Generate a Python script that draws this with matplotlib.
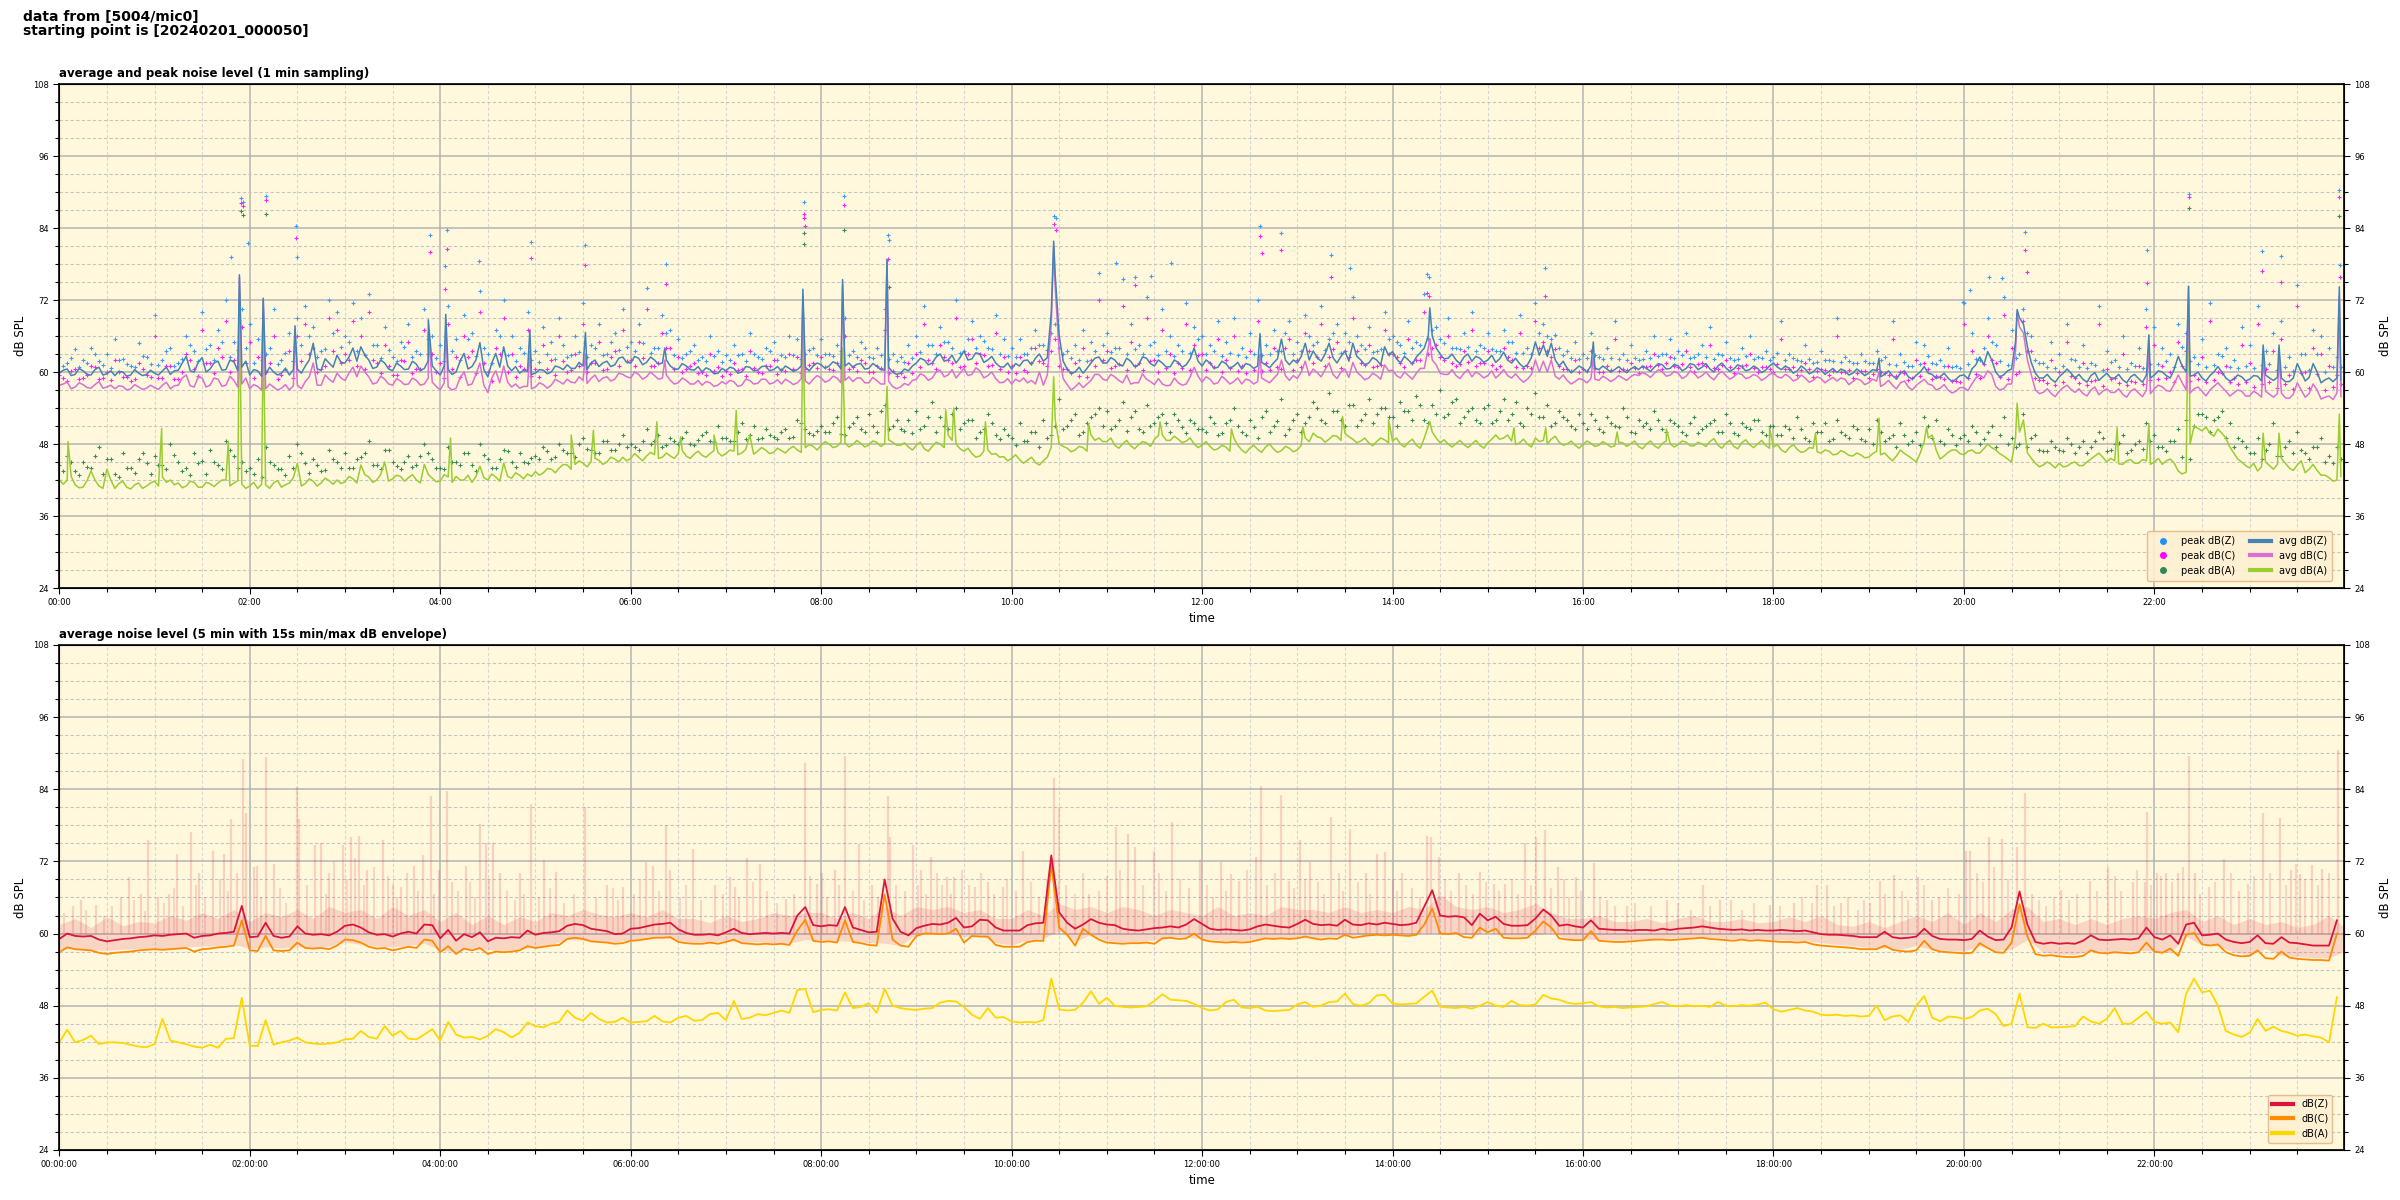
import numpy as np
import matplotlib
matplotlib.use("Agg")
import matplotlib.pyplot as plt
from matplotlib.ticker import MultipleLocator, FuncFormatter
from matplotlib.lines import Line2D

# ---------------- top chart: 1-min averages (read every 2.5 min) ----------------
# values at hh:m0 / hh:m5
avg_Z = [
    59.8, 60.5, 59.6, 60.2, 59.5, 60.8, 59.7, 59.4, 60.0, 59.5, 59.8, 59.6,
    59.8, 60.2, 59.6, 60.3, 62.6, 60.0, 62.4, 60.5, 61.8, 60.4, 61.7, 60.8,
    59.5, 60.2, 59.6, 60.0, 59.8, 59.5, 60.5, 61.0, 64.8, 60.3, 61.5, 62.8,
    61.5, 64.0, 64.2, 62.0, 60.8, 61.5, 60.2, 61.0, 60.5, 61.3, 60.6, 61.0,
    59.5, 60.4, 60.0, 63.1, 60.9, 64.9, 59.2, 63.1, 64.2, 60.2, 59.8, 60.1,
    59.8, 60.3, 60.0, 60.8, 61.2, 60.6, 61.0, 61.5, 60.9, 61.8, 61.2, 62.5,
    61.5, 62.3, 61.6, 62.0, 61.5, 61.0, 60.5, 61.0, 60.3, 60.0, 60.4, 59.8,
    60.2, 60.6, 60.0, 60.8, 60.3, 61.0, 60.4, 60.2, 60.6, 60.4, 60.8, 61.0,
    61.2, 61.0, 61.4, 61.0, 60.8, 61.4, 60.6, 61.0, 60.3, 60.0, 59.8, 60.2,
    61.5, 62.0, 61.5, 63.0, 62.0, 61.5, 63.5, 62.2, 63.0, 62.0, 61.5, 60.8,
    60.5, 61.0, 62.0, 62.3, 61.8, 70.0, 66.0, 60.5, 60.0, 59.8, 61.5, 62.5,
    61.5, 62.0, 61.0, 61.8, 61.2, 62.3, 61.0, 61.5, 60.9, 61.6, 61.2, 64.0,
    61.0, 61.5, 60.8, 61.4, 61.0, 60.5, 61.2, 61.0, 61.2, 61.5, 65.5, 61.2,
    61.5, 64.8, 63.5, 61.8, 64.8, 61.5, 63.5, 64.8, 62.0, 61.5, 62.0, 64.2,
    63.4, 61.5, 62.0, 62.5, 64.0, 66.0, 63.0, 62.3, 62.0, 62.5, 61.8, 62.3,
    62.0, 61.6, 63.3, 61.5, 61.4, 61.2, 65.0, 64.5, 64.8, 61.0, 60.6, 60.4,
    60.6, 61.0, 60.4, 60.5, 60.4, 60.3, 60.5, 60.4, 60.6, 60.8, 61.2, 60.6,
    61.0, 60.6, 61.2, 60.8, 60.5, 61.0, 60.7, 60.5, 60.9, 60.4, 60.6, 60.3,
    61.5, 60.4, 60.6, 60.2, 60.5, 60.0, 60.3, 60.1, 59.9, 60.2, 59.8, 60.0,
    59.8, 60.2, 59.6, 59.4, 59.8, 59.2, 59.5, 60.9, 59.6, 59.2, 59.0, 58.8,
    59.5, 60.5, 62.5, 63.4, 60.0, 59.5, 60.5, 69.0, 64.2, 59.8, 59.0, 58.8,
    59.2, 60.5, 59.0, 58.8, 59.4, 58.6, 59.8, 59.0, 58.7, 59.2, 58.9, 59.5,
    59.5, 60.0, 59.0, 62.6, 60.0, 59.5, 59.0, 59.4, 60.9, 59.0, 58.8, 59.2,
    58.8, 59.3, 59.5, 58.6, 59.0, 58.4, 61.4, 58.5, 61.4, 58.2, 59.0, 59.0,
]
# values at hh:m2.5 / hh:m7.5
avg_Z_mid = [
    60.3, 59.4, 60.6, 59.6, 60.4, 59.5, 60.2, 60.1, 59.3, 60.4, 59.4, 60.3,
    59.5, 60.8, 60.2, 61.5, 60.2, 61.6, 60.0, 61.5, 60.3, 62.0, 60.2, 61.8,
    60.4, 59.3, 60.8, 59.5, 60.6, 60.4, 59.8, 62.0, 60.5, 62.2, 60.8, 61.6,
    62.5, 61.8, 62.8, 60.6, 62.0, 60.5, 61.5, 60.4, 61.8, 60.2, 61.9, 60.2,
    61.0, 59.6, 61.8, 60.5, 62.0, 60.4, 61.5, 60.8, 61.0, 60.9, 60.3, 59.6,
    60.4, 59.7, 61.0, 60.4, 60.6, 61.6, 60.4, 62.0, 61.5, 60.9, 62.3, 61.6,
    62.6, 61.2, 62.5, 61.3, 62.0, 60.5, 61.4, 60.4, 60.9, 60.7, 59.7, 60.6,
    60.8, 59.8, 60.9, 60.2, 60.9, 60.2, 60.9, 61.0, 60.1, 61.0, 60.2, 61.5,
    60.6, 61.7, 60.5, 61.5, 61.3, 60.5, 61.4, 60.4, 60.8, 59.6, 60.5, 61.0,
    62.3, 61.2, 62.5, 61.8, 62.8, 62.4, 62.0, 63.2, 61.6, 62.6, 60.9, 61.5,
    61.4, 61.9, 61.2, 63.0, 62.4, 76.0, 61.8, 59.8, 60.8, 60.6, 62.3, 61.5,
    62.4, 61.2, 62.3, 60.9, 62.5, 61.4, 62.0, 60.8, 62.0, 60.8, 62.2, 61.8,
    62.0, 60.6, 61.8, 60.6, 61.6, 61.4, 60.6, 61.6, 60.7, 62.2, 62.0, 62.0,
    62.6, 62.0, 62.4, 63.0, 62.4, 62.6, 61.8, 62.6, 61.2, 62.4, 61.2, 62.8,
    62.2, 62.6, 61.3, 63.2, 66.0, 64.0, 62.2, 63.0, 61.4, 63.0, 62.6, 61.6,
    62.8, 62.2, 62.0, 62.3, 60.8, 62.4, 62.8, 62.6, 62.0, 61.8, 59.9, 61.0,
    60.0, 60.6, 61.0, 60.0, 60.9, 59.9, 60.9, 61.0, 60.1, 61.4, 60.5, 61.3,
    60.2, 61.4, 60.4, 61.4, 60.0, 61.5, 60.1, 61.2, 60.2, 61.0, 59.9, 61.0,
    60.8, 61.0, 59.8, 61.0, 59.7, 60.7, 59.6, 60.6, 60.5, 59.5, 60.5, 59.4,
    60.4, 59.2, 60.2, 58.8, 60.2, 58.8, 60.0, 59.8, 58.9, 59.8, 58.4, 59.4,
    58.9, 61.2, 61.2, 62.0, 59.2, 60.2, 65.0, 68.0, 61.5, 59.0, 59.6, 58.3,
    59.8, 59.8, 59.6, 58.3, 59.9, 59.2, 59.0, 59.6, 58.2, 59.6, 58.3, 59.0,
    60.2, 59.4, 60.5, 61.0, 59.3, 60.0, 58.5, 60.0, 60.0, 58.5, 59.5, 58.5,
    59.4, 58.5, 59.0, 59.1, 58.4, 59.0, 60.0, 59.1, 60.0, 58.7, 58.4, 58.6,
]
avg_C = [
    57.8, 58.3, 57.5, 57.9, 57.3, 58.4, 57.5, 57.2, 57.6, 57.2, 57.5, 57.3,
    57.4, 57.8, 57.2, 57.8, 59.5, 57.5, 59.0, 57.8, 58.8, 57.8, 58.6, 58.0,
    57.2, 57.6, 57.2, 57.5, 57.3, 57.0, 57.8, 58.4, 61.5, 57.8, 58.8, 59.8,
    58.6, 60.8, 61.0, 59.2, 58.2, 58.8, 57.8, 58.5, 58.0, 58.6, 58.0, 58.3,
    57.0, 57.5, 57.3, 60.0, 58.0, 61.5, 56.6, 60.2, 61.0, 57.5, 57.3, 57.6,
    57.5, 57.9, 57.8, 58.4, 58.8, 58.2, 58.6, 58.9, 58.4, 59.2, 58.8, 59.6,
    59.0, 59.6, 59.2, 59.4, 59.0, 58.6, 58.2, 58.6, 58.0, 57.8, 58.2, 57.8,
    58.0, 58.4, 57.8, 58.6, 58.1, 58.8, 58.2, 58.0, 58.4, 58.2, 58.5, 58.8,
    59.0, 58.6, 59.0, 58.6, 58.4, 59.0, 58.2, 58.6, 58.0, 57.6, 57.5, 57.8,
    58.8, 59.4, 59.0, 60.3, 59.5, 59.0, 60.6, 59.6, 60.2, 59.4, 58.9, 58.3,
    58.0, 58.4, 58.2, 58.0, 57.8, 68.0, 63.0, 57.9, 57.5, 57.4, 58.6, 59.6,
    58.6, 59.2, 58.2, 58.0, 58.2, 58.8, 57.9, 58.0, 57.8, 58.2, 58.0, 60.8,
    58.3, 58.8, 58.2, 58.7, 58.4, 58.0, 58.6, 58.4, 58.6, 58.9, 62.0, 58.6,
    58.9, 61.8, 60.5, 59.2, 61.5, 58.9, 60.5, 61.6, 59.4, 59.0, 59.4, 61.2,
    60.3, 59.0, 59.4, 59.8, 60.6, 62.0, 59.8, 59.6, 59.4, 59.8, 59.2, 59.6,
    59.4, 59.0, 60.4, 59.0, 58.9, 58.8, 62.0, 61.8, 62.0, 58.8, 58.6, 58.4,
    58.7, 58.9, 58.6, 58.9, 58.8, 59.0, 59.2, 59.4, 59.6, 59.8, 60.0, 59.5,
    59.8, 59.3, 59.8, 59.4, 59.2, 59.6, 59.4, 59.2, 59.6, 59.1, 59.3, 59.0,
    59.8, 59.0, 59.2, 58.8, 59.0, 58.6, 58.9, 58.7, 58.5, 58.8, 58.4, 58.6,
    58.2, 58.5, 58.0, 57.8, 58.2, 57.5, 57.8, 58.8, 57.8, 57.3, 57.0, 56.8,
    57.4, 58.0, 59.5, 60.2, 57.6, 57.2, 58.0, 67.5, 62.0, 57.0, 56.6, 56.4,
    56.8, 57.8, 56.6, 56.4, 57.0, 56.2, 57.2, 56.6, 56.3, 56.8, 56.5, 57.0,
    57.2, 57.5, 56.8, 59.5, 57.0, 57.2, 56.8, 57.0, 58.2, 56.8, 56.5, 56.8,
    56.0, 56.4, 56.8, 55.8, 56.5, 55.6, 58.2, 55.8, 58.0, 55.5, 56.0, 56.5,
]
avg_C_mid = [
    58.0, 57.2, 58.2, 57.4, 57.9, 57.3, 57.8, 57.7, 57.0, 57.9, 57.1, 57.8,
    57.1, 58.3, 57.7, 59.0, 57.7, 59.2, 57.5, 59.0, 57.6, 59.3, 57.5, 59.0,
    57.9, 57.0, 58.0, 57.0, 57.9, 57.7, 57.2, 59.2, 57.8, 59.5, 58.3, 59.0,
    59.8, 59.2, 60.0, 58.0, 59.3, 58.0, 58.9, 57.9, 59.0, 57.8, 59.0, 57.6,
    58.2, 57.0, 59.0, 57.8, 59.6, 57.8, 59.0, 58.2, 58.3, 58.0, 57.6, 57.2,
    58.2, 57.3, 58.8, 58.0, 58.3, 59.2, 58.1, 59.5, 59.0, 58.5, 59.8, 59.2,
    60.0, 58.8, 60.0, 58.8, 59.5, 58.0, 59.0, 58.0, 58.6, 58.4, 57.6, 58.4,
    58.6, 57.6, 58.8, 58.0, 58.8, 58.0, 58.7, 58.8, 57.9, 58.9, 58.0, 59.4,
    58.3, 59.3, 58.2, 59.2, 59.0, 58.2, 59.1, 58.0, 58.5, 57.2, 58.1, 58.6,
    59.7, 58.6, 60.0, 59.2, 60.4, 59.8, 59.4, 60.7, 59.0, 60.0, 58.2, 58.9,
    58.8, 59.0, 58.6, 60.0, 59.5, 74.0, 58.9, 57.0, 58.2, 58.0, 59.6, 58.8,
    59.6, 58.6, 59.5, 58.2, 59.7, 58.4, 58.9, 57.7, 59.0, 57.8, 59.2, 59.3,
    59.2, 58.0, 59.3, 58.0, 59.0, 58.8, 58.0, 59.0, 58.2, 59.6, 59.4, 59.4,
    60.0, 59.4, 59.9, 60.4, 59.6, 60.0, 59.1, 60.0, 58.7, 59.8, 58.8, 60.2,
    59.4, 60.0, 58.8, 60.6, 64.0, 61.2, 59.6, 60.4, 58.9, 60.4, 60.0, 59.0,
    60.2, 59.6, 59.4, 59.7, 58.3, 59.6, 60.0, 60.0, 59.3, 59.5, 58.0, 58.9,
    58.2, 58.8, 59.3, 58.4, 59.4, 58.6, 59.6, 59.9, 59.1, 60.4, 59.3, 60.1,
    58.9, 60.2, 59.0, 60.0, 58.7, 60.1, 58.8, 59.8, 58.9, 59.6, 58.6, 59.6,
    59.2, 59.6, 58.5, 59.5, 58.3, 59.2, 58.2, 59.1, 59.0, 57.9, 58.9, 57.9,
    58.8, 57.6, 58.6, 57.2, 58.5, 57.0, 58.3, 58.0, 57.0, 57.9, 56.5, 57.4,
    56.9, 59.0, 59.0, 59.6, 57.0, 58.0, 63.5, 66.5, 59.5, 56.4, 57.2, 55.9,
    57.4, 57.1, 57.2, 56.0, 57.5, 56.8, 56.6, 57.2, 55.8, 57.2, 55.9, 56.4,
    57.8, 56.9, 58.0, 58.2, 56.5, 57.5, 56.0, 57.6, 57.5, 56.0, 57.0, 56.0,
    56.8, 55.8, 56.3, 56.4, 55.7, 56.3, 57.0, 56.4, 57.0, 55.8, 55.4, 55.9,
]
avg_A = [
    42.0, 42.0, 41.2, 40.8, 43.5, 41.0, 43.8, 40.6, 41.8, 40.5, 41.5, 41.0,
    41.8, 42.5, 42.0, 41.5, 41.0, 41.6, 40.8, 41.4, 41.5, 42.0, 41.5, 41.3,
    41.0, 40.6, 41.2, 41.5, 40.8, 41.5, 44.8, 41.4, 41.8, 41.5, 41.9, 42.0,
    41.7, 42.2, 44.5, 42.5, 42.0, 45.0, 42.2, 42.6, 42.4, 42.0, 44.6, 42.3,
    41.8, 42.5, 42.6, 42.0, 41.6, 44.3, 42.0, 42.5, 44.8, 42.3, 42.8, 43.0,
    43.4, 43.2, 43.8, 44.0, 44.5, 44.6, 44.8, 45.0, 45.3, 45.0, 45.5, 45.8,
    45.6, 45.8, 46.0, 46.2, 45.8, 46.0, 46.4, 46.0, 46.3, 46.1, 46.4, 46.6,
    46.4, 46.8, 46.5, 49.5, 46.8, 47.0, 46.6, 46.9, 47.2, 47.0, 47.4, 47.6,
    47.8, 48.0, 47.6, 48.2, 47.9, 48.1, 47.8, 48.3, 48.0, 48.3, 47.8, 47.5,
    47.8, 47.2, 47.6, 48.0, 49.5, 48.0, 46.8, 46.4, 46.0, 47.0, 46.4, 45.9,
    45.6, 45.4, 45.3, 44.9, 45.2, 47.5, 48.0, 47.3, 47.0, 47.4, 49.5, 49.0,
    48.4, 47.8, 48.0, 47.7, 47.9, 48.2, 48.8, 49.5, 48.6, 48.8, 48.5, 48.0,
    47.8, 47.6, 47.2, 47.5, 49.0, 47.0, 47.3, 47.1, 47.5, 47.2, 46.9, 47.3,
    47.0, 49.0, 49.8, 49.0, 48.8, 49.3, 49.8, 48.8, 48.5, 48.2, 48.4, 48.7,
    48.5, 48.0, 48.3, 47.8, 49.0, 50.0, 48.2, 48.0, 48.1, 47.9, 48.0, 47.8,
    48.2, 49.5, 49.0, 48.5, 48.2, 48.0, 49.0, 48.6, 48.8, 48.3, 48.0, 47.8,
    47.9, 48.1, 47.8, 48.0, 47.7, 48.2, 48.0, 47.6, 48.0, 47.7, 48.1, 48.0,
    47.9, 48.3, 47.7, 48.0, 48.4, 47.8, 48.1, 47.6, 48.2, 47.9, 48.0, 47.8,
    47.5, 47.0, 47.4, 47.1, 46.8, 47.3, 46.5, 46.8, 46.3, 46.6, 46.0, 46.2,
    45.8, 46.8, 46.5, 45.2, 47.0, 46.0, 45.0, 48.5, 49.5, 45.5, 46.6, 47.0,
    46.2, 47.0, 46.5, 48.0, 47.0, 46.0, 45.0, 50.0, 46.5, 44.8, 44.5, 44.6,
    44.8, 44.3, 45.0, 44.4, 45.5, 46.5, 45.0, 45.2, 44.6, 45.4, 44.8, 45.2,
    45.0, 44.6, 45.5, 43.5, 43.3, 51.0, 50.2, 49.8, 50.5, 49.0, 46.5, 45.0,
    44.0, 43.5, 45.0, 43.8, 45.6, 44.0, 44.5, 43.2, 44.6, 42.8, 42.4, 42.0,
]
avg_A_mid = [
    41.3, 42.6, 40.7, 41.9, 42.0, 40.6, 42.0, 41.4, 40.8, 41.2, 40.6, 41.5,
    41.0, 41.6, 41.2, 40.7, 41.8, 40.8, 41.6, 40.9, 42.0, 41.0, 41.9, 40.6,
    41.6, 41.3, 40.6, 41.9, 41.2, 42.4, 41.0, 42.2, 41.0, 42.3, 41.3, 41.4,
    42.6, 41.5, 42.9, 41.6, 42.9, 41.8, 42.8, 41.8, 42.9, 41.5, 42.9, 41.7,
    42.9, 41.6, 42.0, 42.8, 42.6, 42.4, 43.0, 41.8, 42.6, 43.2, 42.2, 42.6,
    42.8, 43.9, 43.2, 44.6, 43.8, 45.2, 44.2, 45.6, 44.6, 45.8, 45.0, 45.2,
    46.4, 45.2, 46.6, 45.6, 46.5, 45.6, 46.9, 45.6, 46.8, 45.8, 46.9, 46.0,
    47.0, 46.2, 47.1, 46.3, 47.4, 46.4, 47.3, 46.5, 47.6, 46.6, 47.9, 47.0,
    48.4, 47.4, 48.3, 47.5, 48.6, 47.5, 48.5, 47.6, 48.7, 47.8, 48.2, 47.0,
    48.3, 46.8, 48.3, 47.4, 48.6, 47.2, 47.3, 45.8, 46.8, 46.3, 45.8, 45.2,
    46.2, 44.8, 45.8, 44.5, 45.8, 52.0, 47.6, 46.7, 47.6, 46.8, 48.6, 48.4,
    49.0, 47.3, 48.6, 47.2, 48.4, 47.6, 49.4, 48.6, 49.3, 48.2, 49.0, 47.4,
    48.4, 47.0, 47.8, 46.8, 47.8, 46.5, 47.8, 46.6, 48.0, 46.6, 47.6, 46.7,
    47.8, 48.4, 49.2, 48.3, 49.4, 48.6, 49.2, 48.2, 49.0, 47.7, 49.0, 48.2,
    49.0, 47.5, 48.8, 47.3, 51.0, 49.0, 48.7, 47.5, 48.6, 47.4, 48.6, 47.3,
    48.8, 48.8, 49.5, 47.9, 48.8, 47.5, 48.4, 48.0, 49.3, 47.8, 48.5, 47.3,
    48.5, 47.6, 48.4, 47.5, 48.3, 47.6, 48.5, 47.2, 48.5, 47.3, 48.5, 47.5,
    48.5, 47.7, 48.3, 47.6, 48.9, 47.3, 48.6, 47.2, 48.7, 47.4, 48.6, 47.3,
    47.9, 46.6, 47.9, 46.6, 47.4, 46.7, 47.0, 46.2, 46.9, 46.1, 46.5, 45.7,
    46.4, 46.2, 45.8, 46.0, 46.4, 45.5, 46.5, 49.0, 47.0, 46.0, 47.0, 46.4,
    46.8, 46.5, 47.2, 47.4, 46.4, 45.5, 49.0, 52.0, 45.6, 44.2, 45.0, 44.0,
    44.2, 44.8, 44.4, 45.0, 46.0, 45.8, 45.6, 44.7, 45.2, 44.8, 45.4, 44.6,
    45.6, 45.2, 44.8, 43.0, 48.0, 50.6, 50.8, 49.3, 49.8, 47.5, 45.5, 44.4,
    44.8, 44.2, 44.4, 44.6, 44.8, 43.6, 45.2, 43.8, 43.6, 42.8, 41.8, 42.6,
]
# sharp one-minute spikes of the average lines (minutes after 00:00)
spike_t_ZC = [113.5, 128.5, 148.5, 232.5, 243.5, 296.5, 331.5, 381.5, 468.5, 493.5, 521.5,
              626.5, 756.5, 863.5, 966.5, 1146.5, 1233.5, 1316.5, 1341.5, 1388.5, 1398.5, 1436.5]
spike_Z = [76.2, 72.3, 67.7, 68.7, 69.6, 67.0, 66.6, 64.0, 73.8, 75.4, 78.8,
           81.8, 66.4, 70.7, 65.0, 62.3, 70.4, 66.2, 74.3, 64.5, 64.5, 74.2]
spike_C = [75.8, 72.0, 67.0, 66.5, 67.5, 63.5, 63.0, 62.0, 72.5, 74.5, 78.7,
           80.9, 63.0, 65.6, 62.5, 60.0, 69.8, 63.7, 72.3, 62.5, 62.5, 72.6]
spike_t_A = [5.5, 64.5, 106.5, 113.5, 128.5, 246.5, 322.5, 336.5, 376.5, 391.5,
             412.5, 426.5, 468.5, 493.5, 521.5, 558.5, 563.5, 583.5, 626.5, 648.5,
             693.5, 738.5, 783.5, 808.5, 837.5, 863.5, 916.5, 936.5, 981.5, 1012.5,
             1077.5, 1106.5, 1146.5, 1176.5, 1233.5, 1296.5, 1316.5, 1341.5, 1388.5, 1398.5,
             1436.5]
spike_A = [48.4, 50.6, 48.4, 72.0, 67.0, 49.0, 49.5, 50.3, 51.7, 49.2,
           49.5, 53.6, 67.3, 64.0, 57.6, 53.7, 54.0, 51.7, 59.2, 51.4,
           51.7, 50.5, 50.9, 52.6, 52.0, 51.7, 50.7, 50.7, 50.0, 50.5,
           50.7, 49.8, 52.3, 50.9, 54.8, 50.7, 51.4, 74.2, 49.8, 49.8,
           53.0]

# minute peaks, read at hh:m0/hh:m5 (wide spread) and hh:m2.5/hh:m7.5 (close to the line)
peak_Z = [
    62.5, 61.5, 63.8, 62.0, 64.0, 61.8, 63.0, 65.5, 62.2, 61.0, 64.8, 62.5,
    69.5, 62.0, 64.0, 61.5, 66.0, 63.5, 70.0, 64.5, 67.0, 72.0, 65.0, 70.5,
    68.0, 65.5, 63.0, 70.5, 62.0, 66.5, 69.0, 71.0, 67.5, 63.5, 72.0, 70.0,
    66.0, 71.5, 69.0, 73.0, 64.5, 67.5, 62.5, 65.0, 68.0, 63.5, 70.5, 66.0,
    64.5, 71.0, 65.5, 69.5, 66.5, 73.5, 63.0, 67.0, 72.0, 66.0, 64.0, 70.0,
    63.5, 67.5, 65.0, 69.0, 62.5, 66.0, 71.5, 64.5, 68.0, 63.0, 66.5, 70.5,
    65.0, 68.0, 74.0, 64.0, 69.5, 67.0, 65.5, 63.0, 64.5, 62.5, 66.0, 63.5,
    62.8, 64.5, 63.0, 66.5, 62.5, 64.0, 65.0, 62.8, 66.0, 65.5, 63.0, 64.0,
    65.5, 63.0, 64.5, 69.0, 63.5, 65.0, 62.5, 64.0, 70.5, 63.0, 62.5, 64.5,
    66.0, 71.0, 64.5, 67.5, 65.0, 72.0, 63.5, 68.5, 66.0, 64.0, 69.5, 65.5,
    64.0, 65.5, 63.0, 67.0, 64.5, 66.5, 64.0, 63.5, 64.5, 67.0, 65.0, 76.5,
    66.5, 64.0, 75.5, 68.0, 64.5, 72.5, 65.0, 70.5, 66.0, 64.5, 71.5, 67.5,
    66.0, 64.5, 68.5, 65.0, 69.0, 64.0, 66.5, 72.0, 64.5, 67.0, 63.5, 68.5,
    65.0, 69.5, 64.5, 71.0, 65.5, 68.0, 66.5, 72.5, 64.5, 67.5, 63.5, 70.0,
    66.0, 64.5, 68.5, 65.0, 73.0, 67.0, 65.5, 69.0, 64.0, 66.5, 70.0, 64.5,
    66.5, 63.5, 67.0, 65.0, 69.5, 64.0, 71.5, 68.0, 65.5, 64.0, 63.5, 65.0,
    63.0, 66.5, 62.5, 64.0, 68.5, 63.0, 64.5, 62.0, 63.5, 66.0, 63.0, 65.5,
    63.5, 66.5, 62.5, 64.5, 67.5, 63.0, 65.0, 62.0, 64.0, 66.0, 62.5, 63.5,
    62.5, 68.5, 63.0, 62.0, 64.5, 61.5, 63.5, 62.0, 69.0, 62.5, 61.5, 63.0,
    61.5, 63.5, 62.5, 68.5, 63.0, 61.0, 65.0, 64.5, 61.5, 62.0, 64.0, 61.0,
    71.5, 66.5, 62.0, 69.0, 64.5, 72.5, 67.0, 63.0, 66.5, 62.0, 61.5, 65.0,
    63.0, 68.0, 62.0, 64.5, 61.5, 71.0, 63.5, 62.0, 66.0, 61.5, 64.0, 70.5,
    67.5, 64.0, 63.0, 68.0, 66.5, 62.5, 65.5, 71.5, 63.0, 64.0, 62.0, 67.5,
    64.5, 71.0, 63.5, 66.5, 68.5, 62.5, 74.5, 63.0, 67.0, 66.0, 64.0, 62.5,
]
peak_Z_mid = [
    61.0, 62.3, 60.8, 61.5, 63.0, 61.2, 60.7, 62.0, 61.4, 60.9, 62.6, 61.3,
    61.2, 63.5, 61.0, 62.2, 64.5, 61.8, 63.8, 62.0, 65.0, 62.5, 63.6, 64.0,
    61.5, 62.0, 64.0, 61.3, 63.2, 61.8, 64.5, 66.0, 62.5, 63.8, 66.5, 64.2,
    65.0, 63.5, 62.8, 64.5, 62.3, 63.6, 61.9, 64.2, 62.5, 63.0, 65.5, 62.4,
    61.8, 63.5, 62.0, 65.5, 62.6, 64.0, 61.5, 66.0, 62.8, 61.9, 63.2, 62.0,
    61.6, 63.0, 62.1, 64.5, 62.8, 63.4, 62.5, 64.0, 62.8, 65.0, 63.6, 64.2,
    63.5, 64.8, 63.2, 64.0, 66.5, 62.8, 62.4, 63.5, 62.0, 61.8, 62.6, 61.7,
    62.0, 62.8, 61.8, 63.0, 62.2, 63.5, 62.0, 62.5, 62.8, 62.1, 63.6, 62.9,
    63.0, 62.6, 63.5, 62.8, 62.5, 64.0, 62.4, 62.9, 62.1, 61.8, 61.6, 62.3,
    63.4, 64.5, 63.0, 65.0, 64.0, 63.2, 65.5, 64.0, 65.2, 63.8, 63.0, 62.6,
    62.5, 63.0, 64.0, 64.5, 63.6, 68.0, 63.0, 62.3, 62.0, 61.8, 63.5, 64.5,
    63.4, 64.0, 63.0, 63.8, 63.0, 64.5, 62.8, 63.5, 62.7, 63.5, 63.2, 65.5,
    63.0, 63.5, 62.6, 63.2, 62.9, 62.5, 63.0, 62.8, 63.0, 63.5, 66.5, 63.0,
    63.5, 66.0, 65.0, 63.6, 66.5, 63.2, 65.0, 66.0, 63.8, 63.4, 63.8, 65.5,
    65.0, 63.2, 64.0, 64.5, 65.5, 67.5, 64.8, 64.0, 63.8, 64.2, 63.5, 64.0,
    63.8, 63.5, 65.0, 63.2, 63.1, 63.0, 66.5, 66.0, 66.2, 62.8, 62.4, 62.2,
    62.4, 62.8, 62.2, 62.3, 62.1, 62.0, 62.3, 62.1, 62.4, 62.6, 63.0, 62.4,
    62.8, 62.3, 63.0, 62.5, 62.2, 62.8, 62.4, 62.2, 62.6, 62.1, 62.4, 62.0,
    63.2, 62.0, 62.3, 61.9, 62.2, 61.7, 62.0, 61.8, 61.6, 61.9, 61.5, 61.8,
    61.5, 62.0, 61.3, 61.2, 61.6, 61.0, 61.3, 62.6, 61.4, 61.0, 60.8, 60.6,
    61.3, 62.2, 64.0, 65.0, 61.8, 61.2, 62.3, 70.5, 66.0, 61.5, 60.8, 60.6,
    61.0, 62.2, 60.8, 60.6, 61.2, 60.4, 61.6, 60.8, 60.5, 61.0, 60.7, 61.3,
    61.3, 61.8, 60.8, 64.2, 61.8, 61.3, 60.8, 61.2, 62.6, 60.8, 60.6, 61.0,
    60.6, 61.1, 61.3, 60.4, 60.8, 60.2, 63.0, 60.3, 63.0, 60.0, 60.8, 60.8,
]
peak_C = [
    59.5, 58.5, 60.5, 59.0, 61.0, 58.8, 60.0, 62.0, 59.2, 58.5, 61.5, 59.5,
    66.0, 59.0, 61.0, 58.8, 63.0, 60.5, 67.0, 61.5, 64.0, 68.5, 62.0, 67.5,
    65.0, 62.5, 60.0, 66.0, 59.5, 63.5, 66.0, 68.0, 64.0, 60.5, 69.0, 67.0,
    63.0, 68.5, 66.0, 70.0, 61.5, 64.5, 59.5, 62.0, 65.0, 60.5, 67.0, 63.0,
    61.5, 68.0, 62.5, 66.0, 63.5, 70.0, 60.0, 64.0, 69.0, 63.0, 61.0, 67.0,
    60.5, 64.5, 62.0, 66.0, 60.0, 63.0, 68.0, 61.5, 65.0, 60.5, 63.5, 67.0,
    62.0, 65.0, 70.5, 61.0, 66.5, 64.0, 62.5, 60.5, 61.5, 60.0, 63.0, 60.8,
    60.2, 61.5, 60.5, 63.5, 60.0, 61.0, 62.0, 60.3, 63.0, 62.5, 60.5, 61.5,
    62.5, 60.5, 61.5, 66.0, 60.8, 62.0, 60.0, 61.0, 67.0, 60.2, 59.8, 61.5,
    63.0, 68.0, 61.5, 64.5, 62.0, 69.0, 61.0, 65.5, 63.0, 61.0, 66.5, 62.5,
    61.0, 62.5, 60.0, 64.0, 61.5, 63.5, 61.0, 60.5, 61.5, 64.0, 62.0, 72.0,
    63.5, 61.0, 71.0, 65.0, 61.5, 69.0, 62.0, 67.0, 63.0, 61.5, 68.0, 64.5,
    63.0, 61.5, 65.5, 62.0, 66.0, 61.0, 63.5, 68.5, 61.5, 64.0, 60.5, 65.5,
    62.0, 66.5, 61.5, 68.0, 62.5, 65.0, 63.5, 69.0, 61.5, 64.5, 61.0, 67.0,
    63.0, 61.5, 65.5, 62.0, 70.0, 64.0, 62.5, 66.0, 61.0, 63.5, 67.0, 61.5,
    63.5, 60.5, 64.0, 62.0, 66.5, 61.0, 68.5, 65.0, 62.5, 61.0, 60.5, 62.0,
    60.5, 63.5, 60.0, 61.0, 65.5, 60.5, 61.5, 59.8, 60.8, 63.0, 60.5, 62.5,
    60.8, 63.5, 60.0, 61.5, 64.5, 60.5, 62.0, 59.8, 61.0, 63.0, 60.0, 60.8,
    60.0, 65.5, 60.5, 59.5, 61.5, 59.2, 60.5, 59.5, 66.0, 60.0, 59.0, 60.2,
    59.0, 60.5, 59.8, 65.5, 60.0, 58.6, 62.0, 61.5, 58.8, 59.2, 61.0, 58.5,
    68.0, 63.5, 59.0, 66.0, 61.5, 69.5, 64.0, 60.0, 63.5, 59.0, 58.6, 62.0,
    60.0, 65.0, 59.0, 61.5, 58.5, 68.0, 60.5, 59.0, 63.0, 58.5, 61.0, 67.5,
    64.5, 61.0, 60.0, 65.0, 63.5, 59.5, 62.5, 68.5, 60.0, 61.0, 59.0, 64.5,
    61.5, 68.0, 60.5, 63.5, 65.5, 59.5, 71.0, 60.0, 64.0, 63.0, 61.0, 59.5,
]
peak_C_mid = [
    59.0, 60.2, 58.8, 59.5, 60.8, 59.0, 58.7, 60.0, 59.2, 58.8, 60.5, 59.1,
    59.0, 61.0, 58.8, 60.0, 62.0, 59.3, 61.5, 59.8, 62.5, 60.0, 61.0, 61.5,
    59.0, 59.5, 61.5, 58.9, 60.5, 59.0, 61.8, 63.0, 60.0, 61.0, 63.5, 61.5,
    62.0, 61.0, 60.5, 62.0, 59.8, 61.0, 59.5, 61.8, 59.8, 60.5, 63.0, 60.0,
    59.0, 60.5, 59.2, 62.5, 59.8, 61.5, 58.5, 63.0, 60.0, 59.2, 60.5, 59.4,
    59.2, 60.5, 59.5, 61.8, 60.3, 61.0, 60.0, 61.5, 60.4, 62.5, 61.0, 61.8,
    61.0, 62.3, 61.0, 61.5, 64.0, 60.5, 60.0, 61.0, 59.8, 59.5, 60.2, 59.4,
    59.6, 60.4, 59.4, 60.6, 59.8, 61.0, 59.7, 60.2, 60.5, 59.8, 61.2, 60.6,
    60.8, 60.3, 61.2, 60.5, 60.2, 61.5, 60.0, 60.6, 59.8, 59.4, 59.2, 59.9,
    60.8, 62.0, 60.5, 62.5, 61.5, 60.8, 63.0, 61.5, 62.8, 61.2, 60.5, 60.0,
    59.8, 60.4, 61.5, 61.8, 61.0, 65.5, 60.5, 59.8, 59.4, 59.2, 61.0, 62.0,
    60.6, 61.4, 60.4, 61.0, 60.3, 61.8, 60.0, 60.6, 59.9, 60.7, 60.3, 62.8,
    60.3, 60.8, 60.0, 60.6, 60.2, 59.8, 60.4, 60.2, 60.4, 60.8, 64.0, 60.4,
    60.8, 63.5, 62.5, 61.0, 63.8, 60.6, 62.5, 63.5, 61.2, 60.8, 61.2, 63.0,
    62.5, 60.8, 61.5, 62.0, 63.0, 64.5, 62.0, 61.5, 61.3, 61.7, 61.0, 61.5,
    61.2, 61.0, 62.5, 60.8, 60.7, 60.6, 64.0, 63.5, 63.8, 60.5, 60.2, 60.0,
    60.2, 60.6, 60.0, 60.3, 60.2, 60.4, 60.6, 60.8, 61.0, 61.2, 61.5, 61.0,
    61.3, 60.8, 61.4, 61.0, 60.7, 61.2, 60.9, 60.7, 61.1, 60.6, 60.8, 60.5,
    61.4, 60.5, 60.8, 60.3, 60.5, 60.1, 60.4, 60.2, 60.0, 60.3, 59.9, 60.1,
    59.7, 60.0, 59.5, 59.3, 59.8, 59.0, 59.3, 60.5, 59.3, 58.8, 58.5, 58.3,
    59.0, 59.6, 61.3, 62.0, 59.2, 58.8, 59.6, 68.5, 63.5, 58.6, 58.1, 57.9,
    58.3, 59.4, 58.1, 57.9, 58.6, 57.7, 58.8, 58.1, 57.8, 58.4, 58.0, 58.6,
    58.8, 59.0, 58.3, 61.0, 58.5, 58.8, 58.3, 58.6, 59.8, 58.3, 58.0, 58.3,
    57.5, 58.0, 58.4, 57.3, 58.0, 57.1, 59.8, 57.3, 59.6, 57.0, 57.5, 58.0,
]
peak_A = [
    44.5, 46.0, 43.5, 45.0, 44.0, 47.5, 45.5, 43.0, 46.5, 44.0, 45.5, 44.8,
    46.0, 44.5, 48.0, 45.0, 44.0, 46.5, 45.2, 47.0, 44.5, 48.5, 46.0, 45.0,
    44.0, 45.5, 47.5, 44.5, 43.8, 46.0, 48.0, 44.8, 45.5, 43.5, 47.0, 45.0,
    46.5, 44.0, 45.8, 48.5, 44.5, 47.0, 45.0, 43.8, 46.0, 44.5, 48.0, 45.5,
    44.0, 47.5, 45.0, 46.5, 44.5, 48.0, 45.5, 44.0, 47.0, 45.0, 46.5, 44.8,
    46.0, 47.5, 45.5, 48.0, 46.5, 45.8, 49.0, 47.0, 46.5, 48.5, 47.0, 49.5,
    48.0, 47.0, 50.5, 48.5, 47.5, 49.0, 48.0, 50.0, 47.8, 49.5, 48.5, 51.0,
    49.0, 48.5, 51.5, 49.5, 48.8, 50.5, 49.2, 50.0, 49.0, 52.0, 50.5, 49.5,
    51.0, 50.0, 52.5, 49.5, 51.5, 50.5, 53.0, 50.0, 54.5, 51.0, 50.5, 52.0,
    53.5, 51.0, 55.0, 52.5, 50.5, 54.0, 51.5, 52.0, 50.0, 53.0, 49.5, 50.5,
    49.0, 51.5, 48.5, 50.0, 52.0, 49.5, 55.5, 51.0, 53.0, 50.0, 52.5, 54.0,
    53.5, 51.0, 55.0, 52.5, 50.5, 54.5, 51.5, 53.0, 50.0, 52.0, 49.8, 51.5,
    50.5, 52.5, 49.5, 51.5, 54.0, 50.0, 52.0, 49.0, 53.5, 51.0, 55.5, 50.5,
    53.0, 51.5, 55.0, 52.0, 56.5, 53.5, 51.0, 54.5, 52.0, 55.5, 53.0, 54.0,
    52.5, 55.0, 53.5, 56.0, 52.0, 54.5, 57.0, 53.0, 55.5, 52.5, 54.0, 51.5,
    54.5, 52.0, 55.5, 53.0, 51.5, 54.0, 56.5, 52.5, 51.0, 53.5, 52.0, 50.5,
    51.5, 53.0, 50.5, 52.5, 51.0, 54.0, 50.0, 52.0, 51.5, 53.5, 50.5, 52.0,
    51.0, 49.5, 52.5, 50.5, 51.5, 50.0, 53.0, 49.8, 51.5, 50.5, 52.0, 49.5,
    51.0, 49.5, 50.5, 52.5, 49.0, 51.5, 50.0, 48.5, 52.0, 49.5, 51.0, 48.8,
    50.5, 52.0, 48.5, 49.5, 51.5, 48.0, 50.0, 52.5, 49.0, 48.5, 50.5, 47.8,
    49.5, 51.0, 48.0, 50.0, 47.5, 52.5, 49.0, 48.0, 47.5, 49.5, 46.8, 48.5,
    47.0, 49.0, 46.5, 48.5, 47.5, 50.0, 46.8, 48.0, 49.5, 47.0, 48.5, 51.5,
    49.5, 47.5, 48.5, 50.5, 52.0, 51.0, 53.0, 50.0, 52.5, 49.0, 47.5, 48.5,
    46.5, 49.0, 47.0, 51.5, 46.0, 48.5, 50.0, 46.5, 47.5, 49.0, 46.0, 47.5,
]
peak_A_mid = [
    43.5, 45.0, 42.8, 44.2, 46.0, 43.0, 45.5, 42.5, 44.0, 43.2, 46.5, 43.0,
    44.5, 43.8, 46.2, 43.5, 42.8, 44.8, 43.0, 45.0, 43.8, 47.0, 44.0, 43.5,
    43.0, 42.5, 45.0, 43.8, 42.8, 44.0, 46.5, 43.2, 44.5, 43.6, 45.5, 44.0,
    44.0, 45.5, 46.5, 44.5, 43.8, 47.0, 44.3, 45.0, 44.2, 46.0, 46.5, 44.0,
    43.8, 45.0, 44.5, 46.5, 43.5, 46.2, 44.0, 45.5, 46.8, 44.2, 45.0, 45.6,
    45.5, 46.8, 45.8, 47.0, 46.5, 48.0, 47.2, 46.5, 48.5, 47.0, 48.0, 47.5,
    47.5, 48.5, 48.0, 49.5, 47.8, 48.5, 49.0, 48.0, 48.6, 50.0, 48.4, 49.0,
    48.5, 50.0, 48.8, 51.0, 49.0, 49.5, 48.8, 50.5, 49.2, 51.5, 49.8, 50.2,
    50.0, 51.5, 49.6, 50.8, 52.5, 50.0, 51.0, 53.5, 50.5, 52.0, 50.2, 49.8,
    50.5, 52.5, 50.0, 51.0, 53.0, 50.5, 52.0, 49.0, 50.5, 51.5, 48.8, 49.5,
    47.8, 48.5, 50.0, 47.5, 49.0, 51.0, 50.5, 52.0, 49.5, 51.5, 53.0, 51.0,
    50.5, 52.0, 50.2, 53.5, 50.0, 51.0, 52.5, 51.5, 53.0, 50.8, 52.0, 50.5,
    50.0, 51.5, 49.8, 52.0, 51.0, 49.5, 50.8, 52.5, 50.0, 51.8, 49.5, 52.0,
    50.0, 52.5, 54.0, 51.5, 53.5, 52.0, 54.5, 51.0, 53.0, 51.5, 54.0, 52.5,
    51.0, 53.5, 52.0, 54.5, 51.5, 53.0, 52.5, 55.0, 51.5, 53.5, 52.0, 54.0,
    51.5, 53.5, 52.0, 55.0, 51.0, 53.0, 52.5, 54.5, 51.5, 52.5, 51.0, 53.0,
    50.5, 52.0, 50.0, 51.5, 50.8, 52.5, 49.8, 51.0, 50.5, 52.0, 50.0, 51.5,
    50.0, 51.5, 49.8, 51.0, 52.0, 50.0, 51.5, 49.5, 50.8, 52.0, 50.0, 51.0,
    49.5, 51.0, 49.0, 50.5, 48.5, 50.0, 51.5, 48.8, 50.0, 49.0, 50.5, 48.5,
    48.0, 50.0, 49.0, 47.5, 49.5, 48.5, 47.8, 51.0, 52.0, 48.0, 49.5, 49.0,
    48.5, 50.0, 48.8, 51.0, 49.5, 48.0, 47.5, 53.0, 49.0, 47.0, 46.8, 47.5,
    46.8, 48.0, 47.5, 46.5, 48.5, 49.0, 47.0, 48.2, 46.5, 48.0, 47.2, 48.5,
    47.5, 46.8, 48.5, 45.8, 45.5, 53.0, 52.5, 52.0, 53.5, 51.5, 49.0, 47.5,
    46.5, 45.5, 48.0, 46.0, 47.5, 46.5, 47.0, 45.5, 47.5, 45.0, 44.8, 45.5,
]
loud_t_Z = [108, 114.5, 116, 119, 130, 149, 150, 233.6, 243, 244,
            264.5, 297, 331, 382, 469, 494.5, 522, 523, 627, 628,
            665.5, 678, 688, 700.6, 756.8, 770, 801, 813, 862, 863,
            936, 1199.6, 1204, 1216, 1224, 1238.7, 1315.5, 1341.7, 1388, 1400,
            1436, 1437]
loud_Z = [79.2, 89.0, 88.4, 81.5, 89.3, 84.4, 79.2, 82.8, 77.6, 83.7,
          78.5, 81.6, 81.2, 78.0, 88.3, 89.4, 82.8, 82.0, 86.0, 85.6,
          78.2, 75.8, 76.0, 78.2, 84.4, 83.1, 79.5, 77.4, 76.4, 75.8,
          77.3, 71.7, 73.6, 75.9, 75.6, 83.4, 80.3, 89.7, 80.1, 79.3,
          90.4, 77.9]
loud_t_C = [114.5, 116, 130, 149, 233.6, 243, 244, 297, 331, 382,
            469, 469.5, 470, 494.5, 522, 627, 628, 678, 756.8, 757.5,
            770, 801, 862, 863, 936, 1238.7, 1239.5, 1315.5, 1341.7, 1388,
            1400, 1436, 1437]
loud_C = [88.1, 87.7, 88.6, 82.4, 80.0, 73.9, 80.5, 79.0, 77.9, 74.7,
          86.4, 85.6, 84.3, 87.8, 78.8, 84.7, 83.6, 74.5, 82.6, 79.8,
          80.3, 75.9, 73.2, 72.6, 72.6, 80.3, 76.6, 74.9, 89.1, 76.9,
          75.0, 89.2, 75.8]
loud_t_A = [114.5, 116, 130, 469, 469.5, 494.5, 523, 1341.7, 1436]
loud_A = [86.8, 86.2, 86.4, 83.1, 81.3, 83.6, 74.2, 87.4, 86.0]

# ---------------- bottom chart: 5-min averages ----------------
lvl_Z = [
    59.1, 60.0, 59.6, 59.5, 59.6, 59.0, 58.7, 58.9, 59.1, 59.2, 59.4, 59.5,
    59.7, 59.6, 59.8, 59.9, 60.0, 59.3, 59.6, 59.7, 60.0, 60.1, 60.3, 64.6,
    59.4, 59.5, 61.8, 59.6, 59.3, 59.5, 61.2, 60.0, 59.8, 59.9, 59.7, 60.3,
    61.3, 61.5, 61.0, 60.2, 59.8, 59.9, 59.5, 60.0, 60.3, 60.0, 61.5, 61.4,
    59.2, 60.6, 58.8, 59.9, 59.4, 60.2, 58.7, 59.3, 59.2, 59.4, 59.3, 60.5,
    59.8, 60.1, 60.2, 60.4, 61.3, 61.6, 61.4, 60.8, 60.6, 60.4, 59.9, 60.0,
    60.8, 60.9, 61.2, 61.5, 61.6, 61.8, 60.7, 60.1, 59.8, 59.8, 59.9, 59.7,
    60.2, 60.8, 60.1, 59.9, 60.0, 60.1, 60.0, 60.1, 60.0, 63.0, 64.4, 61.4,
    61.2, 61.4, 61.3, 64.4, 61.0, 60.6, 60.2, 60.3, 69.0, 62.5, 60.3, 59.7,
    60.9, 61.3, 61.6, 61.5, 61.8, 62.6, 61.0, 61.2, 62.3, 62.2, 61.0, 60.5,
    60.5, 60.5, 61.4, 61.7, 61.8, 73.0, 63.5, 61.8, 60.8, 61.5, 62.4, 61.8,
    61.5, 61.4, 60.8, 60.6, 60.5, 60.7, 60.9, 61.0, 61.2, 61.0, 61.5, 62.4,
    61.6, 60.8, 60.6, 60.7, 60.6, 60.5, 60.7, 61.2, 61.5, 61.3, 61.1, 61.0,
    61.6, 62.3, 61.6, 61.4, 61.5, 61.3, 62.3, 61.5, 61.4, 61.7, 61.5, 61.8,
    61.6, 61.4, 61.5, 61.8, 64.5, 67.2, 63.0, 62.8, 62.9, 62.7, 61.4, 63.3,
    62.2, 62.8, 61.6, 61.3, 61.3, 61.4, 62.5, 64.0, 63.0, 61.3, 61.5, 61.2,
    61.0, 62.2, 60.8, 60.7, 60.6, 60.6, 60.5, 60.6, 60.6, 60.5, 60.8, 60.6,
    60.8, 60.9, 61.0, 61.2, 61.0, 60.8, 60.7, 60.6, 60.7, 60.5, 60.6, 60.5,
    60.5, 60.6, 60.5, 60.4, 60.5, 60.2, 59.9, 59.8, 59.8, 59.7, 59.6, 59.4,
    59.4, 59.4, 60.3, 59.4, 59.2, 59.3, 59.5, 60.8, 59.6, 59.1, 59.0, 59.0,
    58.9, 59.1, 60.5, 59.5, 58.9, 59.0, 61.0, 67.0, 61.5, 58.6, 58.3, 58.5,
    58.3, 58.4, 58.3, 58.8, 59.7, 59.0, 58.9, 59.0, 59.1, 59.0, 59.2, 61.0,
    59.4, 59.0, 59.7, 58.3, 61.5, 61.8, 59.7, 59.8, 60.0, 59.0, 58.6, 58.4,
    58.6, 59.7, 58.4, 58.3, 59.4, 58.5, 58.4, 58.2, 58.0, 58.0, 58.0, 62.2,
]
lvl_C = [
    56.9, 57.7, 57.4, 57.3, 57.2, 56.8, 56.6, 56.8, 56.9, 57.0, 57.2, 57.3,
    57.4, 57.3, 57.4, 57.5, 57.6, 57.0, 57.4, 57.5, 57.7, 57.8, 58.0, 62.2,
    57.2, 57.1, 59.6, 57.2, 57.1, 57.2, 58.5, 57.6, 57.5, 57.6, 57.4, 58.0,
    59.0, 58.9, 58.5, 57.8, 57.5, 57.6, 57.2, 57.5, 57.8, 57.6, 59.0, 58.8,
    56.9, 57.9, 56.6, 57.5, 57.2, 57.6, 56.6, 57.0, 56.9, 57.0, 57.2, 57.9,
    57.6, 57.8, 58.0, 58.1, 59.1, 59.3, 59.1, 58.7, 58.6, 58.5, 58.3, 58.4,
    58.8, 58.9, 59.1, 59.3, 59.3, 59.4, 58.6, 58.4, 58.3, 58.3, 58.5, 58.3,
    58.6, 59.0, 58.4, 58.3, 58.2, 58.3, 58.2, 58.3, 58.1, 60.5, 62.3, 58.8,
    58.6, 58.7, 58.5, 62.2, 58.6, 58.4, 58.1, 58.0, 66.5, 59.0, 58.0, 57.8,
    59.6, 60.0, 60.0, 59.9, 60.0, 60.8, 58.5, 59.6, 59.5, 59.5, 58.1, 57.8,
    57.8, 57.8, 58.6, 58.8, 58.8, 71.5, 61.0, 59.8, 58.0, 60.8, 59.8, 59.0,
    58.5, 58.4, 58.3, 58.4, 58.4, 58.5, 58.3, 59.2, 59.3, 59.1, 59.2, 60.0,
    59.0, 58.7, 58.6, 58.5, 58.6, 58.5, 58.6, 58.9, 59.2, 59.1, 59.2, 59.1,
    59.2, 59.5, 59.2, 59.0, 59.2, 59.1, 59.8, 59.3, 59.5, 59.7, 59.8, 59.7,
    59.8, 59.7, 59.6, 59.8, 61.5, 64.2, 60.0, 59.9, 60.1, 59.4, 59.3, 61.0,
    60.2, 60.8, 59.3, 59.2, 59.2, 59.3, 60.5, 62.0, 61.0, 59.2, 59.0, 58.9,
    58.9, 60.4, 58.8, 58.7, 58.6, 58.6, 58.7, 58.8, 58.9, 59.0, 59.0, 58.9,
    59.0, 59.1, 59.2, 59.3, 59.1, 59.0, 58.9, 58.8, 59.0, 58.8, 58.9, 58.8,
    58.7, 58.6, 58.6, 58.5, 58.6, 58.2, 58.0, 57.9, 57.8, 57.7, 57.6, 57.4,
    57.4, 57.4, 58.0, 57.3, 57.1, 57.0, 57.2, 58.8, 57.4, 57.0, 56.9, 56.8,
    56.7, 56.8, 58.4, 57.6, 56.9, 56.8, 58.5, 64.9, 59.5, 56.6, 56.3, 56.4,
    56.2, 56.1, 56.1, 56.3, 57.2, 56.8, 56.7, 56.9, 56.8, 56.7, 56.9, 58.5,
    57.0, 56.8, 57.5, 56.3, 59.8, 60.1, 58.2, 58.0, 58.2, 56.9, 56.4, 56.2,
    56.3, 57.2, 55.9, 55.8, 57.0, 56.0, 55.8, 55.7, 55.6, 55.6, 55.5, 60.0,
]
lvl_A = [
    41.9, 44.0, 41.9, 42.3, 43.0, 41.6, 41.9, 41.9, 41.8, 41.5, 41.2, 41.1,
    41.6, 45.8, 42.2, 41.9, 41.6, 41.2, 41.0, 41.5, 41.0, 42.5, 42.6, 49.3,
    41.3, 41.3, 45.6, 41.5, 41.9, 42.2, 42.7, 41.9, 41.7, 41.6, 41.7, 41.9,
    42.4, 42.5, 43.8, 42.8, 42.5, 44.6, 43.0, 43.8, 42.5, 42.4, 43.2, 44.1,
    42.2, 45.3, 43.2, 42.7, 42.8, 42.4, 43.0, 44.1, 43.6, 42.7, 43.5, 45.2,
    44.6, 44.4, 45.0, 45.3, 47.2, 46.0, 45.5, 46.8, 45.8, 45.2, 45.3, 46.0,
    45.2, 45.3, 45.4, 46.3, 45.4, 45.2, 46.0, 46.3, 45.5, 45.6, 46.6, 46.8,
    45.6, 48.8, 45.8, 46.0, 46.6, 46.4, 46.8, 47.2, 46.8, 50.6, 50.8, 46.9,
    47.3, 47.4, 47.2, 50.2, 47.6, 47.8, 48.4, 46.8, 50.8, 48.0, 47.6, 47.4,
    47.3, 47.5, 47.6, 48.5, 48.8, 48.7, 47.8, 46.5, 45.8, 47.6, 46.0, 46.1,
    45.4, 45.2, 45.3, 45.2, 45.6, 52.5, 47.4, 47.2, 47.3, 48.5, 50.4, 48.3,
    49.3, 48.0, 47.8, 47.7, 47.8, 47.9, 48.8, 49.9, 49.0, 48.9, 48.8, 48.3,
    47.6, 47.2, 47.4, 48.6, 49.0, 47.7, 47.6, 47.8, 47.2, 47.1, 47.2, 47.3,
    48.2, 48.6, 47.8, 48.0, 48.6, 48.7, 50.0, 48.3, 48.0, 48.4, 49.7, 49.8,
    48.4, 48.2, 48.3, 48.4, 49.5, 50.5, 47.8, 47.7, 47.6, 47.8, 47.5, 48.0,
    48.6, 48.0, 47.8, 48.8, 48.1, 48.0, 48.2, 49.8, 49.2, 49.0, 48.5, 48.3,
    48.4, 48.6, 47.9, 47.7, 47.8, 47.6, 47.7, 47.8, 47.9, 48.3, 48.6, 48.0,
    47.9, 48.1, 47.9, 48.0, 47.8, 48.6, 48.0, 47.9, 48.1, 48.0, 48.2, 48.5,
    47.4, 47.0, 47.3, 47.6, 47.2, 47.0, 46.5, 46.4, 46.5, 46.3, 46.4, 46.2,
    46.3, 48.0, 45.6, 46.2, 46.4, 45.3, 48.0, 49.6, 46.0, 45.4, 46.2, 46.1,
    45.8, 46.1, 47.2, 47.5, 46.6, 44.6, 45.0, 50.0, 44.4, 44.3, 45.0, 44.4,
    44.4, 44.5, 44.6, 46.2, 45.4, 45.0, 45.8, 47.6, 45.0, 45.0, 46.0, 47.0,
    45.3, 45.0, 45.2, 43.6, 50.0, 52.5, 50.2, 50.5, 48.0, 43.8, 43.2, 42.8,
    43.5, 45.8, 43.8, 44.5, 43.8, 43.5, 43.0, 43.2, 42.9, 42.7, 41.9, 49.4,
]
# 15 s min / max envelope, one value every 10 min, plus the 15 s maxima that stick out
env_min = [
    57.4, 57.6, 57.3, 57.2, 57.4, 57.5, 57.6, 57.5, 57.8, 57.9, 58.0, 58.2,
    57.5, 57.8, 57.6, 57.8, 57.7, 57.9, 58.6, 58.2, 57.9, 57.8, 58.0, 58.4,
    57.2, 57.0, 57.6, 57.3, 57.2, 57.4, 57.8, 58.2, 59.0, 58.9, 58.8, 58.6,
    59.0, 59.3, 59.5, 58.8, 58.6, 58.7, 58.8, 58.6, 58.6, 58.5, 58.4, 59.0,
    58.9, 58.8, 58.7, 58.5, 58.4, 58.0, 59.9, 60.2, 60.1, 59.5, 59.7, 58.5,
    58.1, 58.9, 59.2, 60.5, 58.6, 59.9, 58.8, 58.6, 58.7, 58.9, 59.5, 59.4,
    59.1, 58.9, 58.8, 58.9, 59.4, 59.3, 59.4, 59.3, 59.5, 59.6, 59.8, 59.9,
    60.0, 59.9, 60.2, 60.1, 60.2, 59.7, 60.4, 59.6, 59.5, 59.8, 60.3, 59.2,
    59.1, 59.0, 58.9, 59.0, 59.1, 59.2, 59.3, 59.4, 59.3, 59.2, 59.2, 59.1,
    59.0, 58.9, 58.8, 58.5, 58.2, 58.0, 57.7, 57.6, 57.4, 58.0, 57.3, 57.2,
    57.1, 57.9, 57.2, 57.4, 59.0, 56.9, 56.6, 56.5, 57.2, 57.0, 57.1, 57.2,
    57.1, 56.8, 59.5, 58.1, 58.0, 56.9, 56.5, 57.5, 56.3, 56.2, 56.0, 56.0,
    57.0,
]
env_max = [
    61.5, 62.5, 61.0, 62.8, 61.3, 62.0, 61.8, 63.0, 62.2, 63.5, 62.5, 64.0,
    62.0, 63.5, 62.8, 64.0, 62.5, 64.5, 63.5, 64.0, 62.5, 64.5, 63.0, 64.0,
    62.0, 63.5, 61.5, 63.0, 61.5, 62.8, 62.0, 63.5, 63.0, 64.0, 63.2, 62.8,
    63.5, 62.8, 64.0, 62.5, 62.5, 61.8, 63.0, 62.0, 62.5, 63.5, 63.0, 63.5,
    63.5, 62.5, 63.5, 62.5, 64.5, 63.0, 64.5, 64.0, 64.5, 63.5, 64.0, 62.5,
    62.5, 64.0, 63.0, 65.0, 64.0, 64.5, 63.5, 64.5, 64.0, 63.0, 64.0, 63.5,
    63.0, 64.5, 63.0, 63.5, 63.0, 64.5, 64.0, 64.0, 63.5, 64.5, 63.5, 64.0,
    63.5, 64.5, 64.0, 66.5, 64.5, 64.0, 64.5, 63.5, 64.0, 65.0, 63.5, 62.5,
    62.5, 63.0, 62.0, 62.0, 62.5, 61.8, 62.5, 63.0, 62.0, 62.0, 62.5, 61.8,
    62.0, 62.8, 62.0, 63.0, 61.5, 61.2, 62.0, 61.0, 62.0, 63.0, 62.0, 63.5,
    61.5, 63.5, 62.0, 64.0, 64.5, 62.0, 62.5, 61.5, 62.5, 61.5, 62.5, 63.0,
    62.5, 63.5, 64.0, 62.0, 63.0, 61.5, 62.5, 61.5, 62.0, 61.0, 61.5, 63.0,
    61.0,
]
burst_t = [
    8.7, 13.5, 23, 39, 44, 51.5, 56, 62, 69, 74,
    83, 88, 97, 104, 108, 112, 116, 117.6, 122.4, 124.7,
    130, 135, 149.5, 151, 161, 165, 170, 178.5, 183.6, 188.8,
    194, 204, 210, 215, 223.6, 229, 234, 239, 244, 247.7,
    256, 264.8, 268.7, 273, 277.7, 290, 297, 305.7, 313, 331,
    345, 355, 369.5, 374, 382, 385, 399, 413, 422.7, 426,
    433, 441.4, 458, 469.7, 477.5, 480.6, 488.7, 495.2, 504, 512,
    522, 523.5, 538, 543, 549, 559, 564, 577, 585, 594.5,
    607, 627, 630, 649, 665.5, 673.5, 678, 689.7, 701, 718.7,
    732, 738, 743, 754, 757.4, 770, 775, 781.6, 788, 801,
    813, 823.5, 830, 835, 846, 861.6, 864, 869, 881.6, 895,
    904, 910.6, 923.5, 930.6, 936, 944.5, 955.8, 967, 975, 988,
    1012.8, 1035.4, 1046, 1077.6, 1092.7, 1107.7, 1113.7, 1122.8, 1140.8, 1146.9,
    1155.9, 1171, 1180, 1196.6, 1201, 1204, 1216, 1223.7, 1233.6, 1238.7,
    1243, 1261, 1279.4, 1290.8, 1306.5, 1314, 1315.5, 1321.6, 1327.6, 1335,
    1341.7, 1345.7, 1354.7, 1363.7, 1378.8, 1388.4, 1399.3, 1406, 1412, 1419.5,
    1425.5, 1435.4,
]
burst_v = [
    64.5, 65.5, 64.8, 66.0, 69.4, 66.5, 75.5, 66.0, 66.6, 73.3,
    76.9, 70.0, 73.8, 73.3, 79.1, 70.0, 89.0, 80.0, 71.0, 71.3,
    89.3, 71.6, 84.4, 79.0, 74.7, 75.0, 70.0, 74.7, 76.0, 76.3,
    70.5, 75.5, 68.3, 67.8, 71.3, 73.0, 82.9, 70.5, 83.7, 68.6,
    71.3, 78.3, 75.0, 75.0, 70.0, 70.0, 81.6, 72.2, 70.3, 81.0,
    68.0, 67.7, 71.9, 71.3, 78.0, 70.5, 74.1, 68.0, 69.4, 67.7,
    72.5, 71.6, 65.7, 88.4, 68.3, 70.0, 70.5, 89.6, 74.9, 68.0,
    82.8, 76.1, 74.7, 70.5, 72.7, 69.4, 69.4, 67.7, 68.5, 67.7,
    73.8, 85.8, 81.0, 66.5, 77.7, 76.6, 74.4, 73.8, 78.6, 72.2,
    71.9, 69.9, 68.8, 72.7, 84.6, 83.0, 68.8, 75.5, 71.9, 79.4,
    77.4, 70.0, 73.3, 73.6, 70.0, 76.2, 76.1, 72.7, 70.0, 70.3,
    68.3, 68.3, 75.0, 76.0, 77.2, 71.1, 69.4, 71.7, 65.5, 64.5,
    65.5, 68.0, 65.5, 64.7, 65.0, 68.0, 68.0, 65.0, 65.0, 68.7,
    69.7, 69.4, 65.5, 66.6, 73.8, 73.7, 76.0, 75.7, 74.4, 83.4,
    66.6, 67.2, 68.8, 71.0, 68.5, 68.5, 80.3, 70.0, 70.0, 70.0,
    89.6, 70.0, 67.7, 72.4, 68.3, 80.0, 79.3, 70.5, 69.9, 71.4,
    70.8, 90.5,
]
burst2_t = [
    3, 17, 28, 33, 47, 54, 66, 72, 78, 86, 92, 101, 106,
    127, 139, 143, 156, 168, 173, 181, 186, 192, 198, 207, 213, 219, 226, 236,
    251, 259, 262, 271, 282, 287, 293, 302, 309, 318, 324, 338, 349, 352,
    362, 366, 378, 391, 395, 404, 418, 428, 437, 446, 452, 463, 473, 484, 491,
    500, 507, 516, 527, 533, 541, 546, 553, 556, 562, 569, 573, 581, 589, 597,
    603, 612, 617, 622, 634, 640, 645, 655, 660, 668, 683, 693, 697, 706, 712,
    723, 727, 735, 748, 761, 766, 778, 785, 793, 797, 806, 809, 818, 826, 840, 843,
    852, 857, 873, 877, 886, 891, 899, 907, 915, 919, 927, 940, 948, 951, 959,
    971, 980, 993, 1003, 1020, 1028, 1040, 1053, 1060, 1068, 1084,
    1098, 1104, 1118, 1127, 1133, 1137, 1150, 1161, 1165, 1175, 1184, 1190,
    1208, 1212, 1219, 1228, 1247, 1252, 1257, 1266, 1271, 1284, 1295, 1299, 1309, 1318,
    1324, 1331, 1338, 1349, 1358, 1368, 1373, 1383, 1393, 1403, 1409, 1415, 1423, 1430,
]
burst2_v = [
    63.5, 64.0, 63.0, 64.5, 65.5, 63.8, 65.0, 67.5, 64.5, 68.0, 66.0, 69.0, 67.0,
    66.0, 67.5, 65.0, 68.0, 66.5, 72.0, 69.0, 72.5, 68.0, 71.0, 69.5, 66.0, 70.0, 67.0, 66.5,
    67.0, 68.5, 66.0, 69.0, 67.0, 65.5, 66.5, 66.0, 67.5, 65.0, 66.5, 66.0, 67.5, 65.5,
    66.5, 69.0, 67.0, 66.0, 68.0, 65.5, 66.5, 66.0, 68.5, 67.0, 65.0, 66.5, 69.5, 66.0, 68.0,
    67.0, 65.5, 66.0, 68.0, 67.0, 68.0, 66.5, 70.0, 68.0, 66.5, 70.5, 68.0, 70.0, 66.5, 69.0,
    67.0, 68.5, 66.0, 69.0, 68.0, 66.5, 70.0, 67.0, 69.5, 70.5, 68.0, 70.0, 67.0, 69.0, 67.5,
    68.0, 66.0, 67.0, 70.5, 68.0, 70.0, 67.5, 69.0, 68.5, 66.5, 70.0, 67.0, 68.5, 66.5, 69.0, 67.0,
    67.5, 66.0, 69.0, 67.0, 68.0, 66.5, 68.5, 67.0, 69.0, 66.5, 68.0, 67.5, 69.0, 66.0, 67.0,
    66.0, 64.5, 65.0, 64.5, 65.0, 64.0, 64.5, 65.5, 64.0, 65.0, 64.5,
    66.0, 65.0, 64.5, 66.0, 64.0, 65.5, 66.5, 67.0, 65.5, 68.0, 66.0, 67.5,
    70.0, 68.5, 71.0, 69.0, 65.5, 64.5, 66.0, 65.5, 66.5, 67.0, 69.5, 67.0, 70.5, 68.0,
    69.5, 68.5, 71.0, 66.5, 68.5, 70.0, 67.0, 69.5, 70.0, 68.0, 71.5, 69.0, 68.0, 70.0,
]

# ---------------- figure ----------------
BG = "#fff8dc"
t5 = np.arange(len(avg_Z)) * 5.0
t5m = t5 + 2.5
t10 = np.arange(len(env_min)) * 10.0


def merged(*pairs):
    t = np.concatenate([np.asarray(p[0], float) for p in pairs])
    v = np.concatenate([np.asarray(p[1], float) for p in pairs])
    o = np.argsort(t, kind="stable")
    return t[o], v[o]


def hhmm(x, pos):
    m = int(round(x))
    return "%02d:%02d" % (m // 60, m % 60)


def hhmmss(x, pos):
    m = int(round(x))
    return "%02d:%02d:00" % (m // 60, m % 60)


def style(ax, fmt):
    ax.set_facecolor(BG)
    ax.set_xlim(0, 1439.5)
    ax.set_ylim(24, 108)
    ax.set_axisbelow(True)
    ax.xaxis.set_major_locator(MultipleLocator(120))
    ax.xaxis.set_minor_locator(MultipleLocator(30))
    ax.yaxis.set_major_locator(MultipleLocator(12))
    ax.yaxis.set_minor_locator(MultipleLocator(3))
    ax.xaxis.set_major_formatter(FuncFormatter(fmt))
    ax.grid(which="major", color="#b3b3b3", lw=1.1, ls="-")
    ax.grid(which="minor", axis="y", color="#c4c4c4", lw=0.8, ls=(0, (3, 2)))
    ax.grid(which="minor", axis="x", color="#d6d6d6", lw=0.8, ls=(0, (3, 2)))
    ax.tick_params(which="both", labelsize=6, length=4, width=0.8)
    ax.tick_params(which="minor", length=3)
    for s in ax.spines.values():
        s.set_linewidth(1.2)
    ax.set_xlabel("time", fontsize=8.5, labelpad=3)
    ax.set_ylabel("dB SPL", fontsize=8.5, labelpad=4)
    tw = ax.twinx()
    tw.set_ylim(24, 108)
    tw.yaxis.set_major_locator(MultipleLocator(12))
    tw.yaxis.set_minor_locator(MultipleLocator(3))
    tw.tick_params(which="both", labelsize=6, length=4, width=0.8)
    tw.tick_params(which="minor", length=3)
    tw.set_ylabel("dB SPL", fontsize=8.5, labelpad=6)
    return tw


fig = plt.figure(figsize=(24, 12), dpi=100)
fig.text(0.0096, 0.992, "data from [5004/mic0]\nstarting point is [20240201_000050]",
         ha="left", va="top", fontsize=10, fontweight="bold", linespacing=1.0)

ax1 = fig.add_axes([0.0247, 0.51, 0.952, 0.42])
ax2 = fig.add_axes([0.0247, 0.0417, 0.952, 0.4208])
style(ax1, hhmm)
style(ax2, hhmmss)
ax1.set_title("average and peak noise level (1 min sampling)", loc="left",
              fontsize=8.5, fontweight="bold", pad=5)
ax2.set_title("average noise level (5 min with 15s min/max dB envelope)", loc="left",
              fontsize=8.5, fontweight="bold", pad=5)

# --- top: peaks as small crosses, averages as lines
mk = dict(marker="+", ls="none", ms=3.2, mew=0.8, zorder=2)
for (vl, vm, tx, vx, col) in [
    (peak_Z, peak_Z_mid, loud_t_Z, loud_Z, "#3d9bff"),
    (peak_C, peak_C_mid, loud_t_C, loud_C, "#ff22ff"),
    (peak_A, peak_A_mid, loud_t_A, loud_A, "#3b8b58"),
]:
    tp, vp = merged((t5, vl), (t5m, vm), (tx, vx))
    ax1.plot(tp, vp, color=col, **mk)

tz, vz = merged((t5, avg_Z), (t5m, avg_Z_mid), (spike_t_ZC, spike_Z))
tc, vc = merged((t5, avg_C), (t5m, avg_C_mid), (spike_t_ZC, spike_C))
ta, va = merged((t5, avg_A), (t5m, avg_A_mid), (spike_t_A, spike_A))
ax1.plot(ta, va, color="yellowgreen", lw=1.1, zorder=3)
ax1.plot(tc, vc, color="orchid", lw=1.1, zorder=3)
ax1.plot(tz, vz, color="steelblue", lw=1.1, zorder=4)

h1 = [
    Line2D([], [], marker="o", ls="none", color="dodgerblue", ms=4),
    Line2D([], [], marker="o", ls="none", color="magenta", ms=4),
    Line2D([], [], marker="o", ls="none", color="seagreen", ms=4),
    Line2D([], [], color="steelblue", lw=3),
    Line2D([], [], color="orchid", lw=3),
    Line2D([], [], color="yellowgreen", lw=3),
]
l1 = ["peak dB(Z)", "peak dB(C)", "peak dB(A)", "avg dB(Z)", "avg dB(C)", "avg dB(A)"]
lg1 = ax1.legend(h1, l1, loc="lower right", ncol=2, fontsize=7, facecolor="#fdf0d2",
                 edgecolor="#e0b887", framealpha=0.9, borderpad=0.5, columnspacing=1.5,
                 handlelength=2.2, bbox_to_anchor=(0.997, 0.005))
lg1.set_zorder(10)

# --- bottom: envelope + 5-min averages
ax2.fill_between(t10, env_min, env_max, color="crimson", alpha=0.15, lw=0, zorder=1)
ax2.vlines(burst2_t, 60.0, burst2_v, color="crimson", alpha=0.15, lw=1.5, zorder=1)
ax2.vlines(burst_t, 60.0, burst_v, color="crimson", alpha=0.17, lw=1.6, zorder=1)
ax2.plot(t5, lvl_A, color="gold", lw=1.3, zorder=3)
ax2.plot(t5, lvl_C, color="darkorange", lw=1.3, zorder=3)
ax2.plot(t5, lvl_Z, color="crimson", lw=1.3, zorder=4)
h2 = [Line2D([], [], color="crimson", lw=3), Line2D([], [], color="darkorange", lw=3),
      Line2D([], [], color="gold", lw=3)]
lg2 = ax2.legend(h2, ["dB(Z)", "dB(C)", "dB(A)"], loc="lower right", fontsize=7,
                 facecolor="#fdf0d2", edgecolor="#e0b887", framealpha=0.9,
                 handlelength=2.2, bbox_to_anchor=(0.997, 0.005))
lg2.set_zorder(10)

fig.savefig("out.png", dpi=100, facecolor="white")
